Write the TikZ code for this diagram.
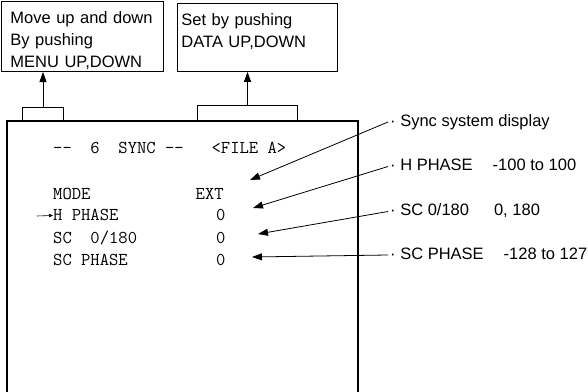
\documentclass[tikz,border=0pt]{standalone}
\usepackage{fontspec}
\setmainfont{Liberation Sans}
\usetikzlibrary{arrows.meta}

\begin{document}
\begin{tikzpicture}[
    x=1pt,y=1pt,
    font=\fontsize{16.5}{22}\selectfont,
    note/.style={draw,line width=0.9pt,anchor=north west,align=left,inner ysep=2pt},
    tab/.style={minimum width=#1,minimum height=12pt,inner sep=0pt,anchor=south},
    scr/.style={font=\ttfamily\fontsize{18.1}{20}\selectfont,anchor=base west,inner sep=0pt},
    ann/.style={anchor=west,inner xsep=2pt,inner ysep=0pt,text height=12pt,text depth=3.5pt},
    >={Triangle[length=10pt,width=7pt]},
    arr/.style={->,line width=0.8pt}
  ]
  \useasboundingbox (0,0) rectangle (588,391);

  % key boxes
  \node[note,inner xsep=9pt,text width=144pt] (menu) at (1,390)
    {\rule{0pt}{20pt}Move up and down\\By pushing\\MENU UP,DOWN\rule[-2pt]{0pt}{2pt}};
  \node[note,inner xsep=4pt,text width=152pt] (data) at (177,388)
    {\rule{0pt}{20pt}Set by pushing\\DATA UP,DOWN\rule[-22pt]{0pt}{22pt}};

  % screen with its two keys
  \node[draw,line width=1.6pt,anchor=north west,minimum width=351pt,minimum height=320pt,
        inner sep=0pt] (screen) at (6,271) {};
  \node[tab=40pt] (mtab) at (43,271) {};
  \node[tab=99pt,minimum height=14pt] (dtab) at (247.5,271) {};
  \draw[line width=0.9pt] (mtab.south west) |- (mtab.north east) -- (mtab.south east);
  \draw[line width=0.9pt] (dtab.south west) |- (dtab.north east) -- (dtab.south east);

  \draw[arr] (mtab.north) -- (mtab.north |- menu.south);
  \draw[arr] (dtab.north) -- (dtab.north |- data.south);

  % screen text
  \node[scr] (title) at (53,237) {-{}-~~6~~SYNC~-{}-~~~<FILE~A>};
  \node[scr] (mode)  at (53,191) {MODE};
  \node[scr] (ext)   at (195.5,191) {EXT};
  \node[scr] (hph)   at (53,170) {H~PHASE};
  \node[scr] (sc)    at (53,148) {SC~~0/180};
  \node[scr] (scph)  at (53,126) {SC~PHASE};
  \node[scr] (vhph)  at (216,170) {0};
  \node[scr] (vsc)   at (216,148) {0};
  \node[scr] (vscph) at (216,126) {0};

  \coordinate (cur) at (37,175);
  \draw[-{Triangle[length=4pt,width=3.5pt]},line width=0.6pt] (cur) -- (hph.west);

  % notes on the right
  \node[ann] (nsync) at (388,269)   {· Sync system display};
  \node[ann] (nhph)  at (388,224.5) {· H PHASE\hspace{20pt}-100 to 100};
  \node[ann] (nsc)   at (388,179.5) {· SC 0/180\hspace{25pt}0, 180};
  \node[ann] (nscph) at (388,136)   {· SC PHASE\hspace{20pt}-128 to 127};

  \coordinate (psync) at (250,211);
  \coordinate (phph)  at (253,183);
  \coordinate (psc)   at (258,157);
  \coordinate (pscph) at (252,134);

  \draw[arr] (nsync.west) -- (psync);
  \draw[arr] (nhph.west)  -- (phph);
  \draw[arr] (nsc.west)   -- (psc);
  \draw[arr] (nscph.west) -- (pscph);
\end{tikzpicture}
\end{document}
